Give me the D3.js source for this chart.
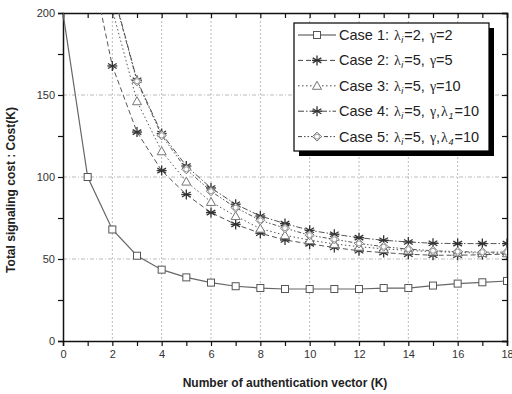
<!DOCTYPE html>
<html>
<head>
<meta charset="utf-8">
<script src="https://cdn.jsdelivr.net/npm/d3@7"></script>
<style>
  body { margin: 0; background: #fff; }
  svg { display: block; font-family: Arial, "Liberation Sans", sans-serif; }
</style>
</head>
<body>
<div id="chart"></div>
<script>
// valores
const kCase1 = d3.range(0, 19);
const case1 = [200, 100, 68, 52, 43.5, 38.8, 35.6, 33.4, 32.3, 31.7, 31.7, 31.7, 31.7, 32.3, 32.3, 33.8, 35, 35.8, 36.6];
const kCase2 = d3.range(1, 19);
const case2 = [240, 167.7, 127.4, 103.9, 89.3, 78.3, 71.1, 65.7, 61.6, 59.2, 57, 55, 53.9, 52.9, 52.3, 52.3, 52.6, 53];
const kRest = d3.range(2, 19);
const case3 = [202, 146.2, 115.7, 97.2, 84.8, 76.2, 68.5, 64.5, 61.5, 59.2, 57.5, 56.2, 55.2, 54.5, 54, 53.6, 53.5];
const case4 = [215, 159, 126.5, 106.7, 93.3, 83.4, 76.2, 71.6, 67.5, 65.1, 63, 61.4, 60.4, 59.6, 59.4, 59.4, 59.4];
const case5 = [214, 158.4, 125.4, 104.7, 91.3, 81.3, 73.6, 68.8, 64.5, 62, 59.5, 57.5, 56, 55, 54.5, 54.2, 54.2];

const xTicks = d3.range(0, 19, 2);
const yTicks = [0, 50, 100, 150, 200];

const series = [
  { k: kCase1, v: case1, marker: 'square', dash: null, label: ['Case 1: ', 'λ', 'i', '=2, ', 'γ', '=2'] },
  { k: kCase2, v: case2, marker: 'star', dash: '5,3', label: ['Case 2: ', 'λ', 'i', '=5, ', 'γ', '=5'] },
  { k: kRest, v: case3, marker: 'triangle', dash: '1.5,2.5', label: ['Case 3: ', 'λ', 'i', '=5, ', 'γ', '=10'] },
  { k: kRest, v: case4, marker: 'star', dash: '6,2,1.5,2', label: ['Case 4: ', 'λ', 'i', '=5, ', 'γ', ',', 'λ', '1', '=10'] },
  { k: kRest, v: case5, marker: 'diamond', dash: '4,2,1.5,2,1.5,2', label: ['Case 5: ', 'λ', 'i', '=5, ', 'γ', ',', 'λ', '4', '=10'] }
];

const width = 512, height = 394;
const margin = { top: 13, right: 5, bottom: 53, left: 63 };
const iw = width - margin.left - margin.right;
const ih = height - margin.top - margin.bottom;

const svg = d3.select('#chart').append('svg')
  .attr('width', width)
  .attr('height', height);

const g = svg.append('g').attr('transform', `translate(${margin.left},${margin.top})`);

const x = d3.scaleLinear().domain([0, 18]).range([0, iw]);
const y = d3.scaleLinear().domain([0, 200]).range([ih, 0]);

svg.append('defs').append('clipPath').attr('id', 'clip')
  .append('rect').attr('width', iw).attr('height', ih);

// rejilla
g.append('g').selectAll('line')
  .data(xTicks.filter(d => d > 0 && d < 18))
  .enter().append('line')
  .attr('x1', d => x(d)).attr('x2', d => x(d))
  .attr('y1', 0).attr('y2', ih)
  .attr('stroke', '#bbb').attr('stroke-width', 1).attr('stroke-dasharray', '2,2');

g.append('g').selectAll('line')
  .data(yTicks.filter(d => d > 0 && d < 200))
  .enter().append('line')
  .attr('x1', 0).attr('x2', iw)
  .attr('y1', d => y(d)).attr('y2', d => y(d))
  .attr('stroke', '#bbb').attr('stroke-width', 1).attr('stroke-dasharray', '4,2,1,2');

// ejes
const minorX = d3.range(0, 19);
const minorY = d3.range(0, 201, 25);

const xAxis = g.append('g').attr('transform', `translate(0,${ih})`)
  .call(d3.axisBottom(x).tickValues(minorX).tickSize(5).tickPadding(4)
    .tickFormat(d => d % 2 === 0 ? d : ''));
const yAxis = g.append('g')
  .call(d3.axisLeft(y).tickValues(minorY).tickSize(5).tickPadding(3)
    .tickFormat(d => d % 50 === 0 ? d : ''));
const xTop = g.append('g')
  .call(d3.axisBottom(x).tickValues(minorX).tickSize(5).tickFormat(''));
const yRight = g.append('g').attr('transform', `translate(${iw},0)`)
  .call(d3.axisLeft(y).tickValues(minorY).tickSize(5).tickFormat(''));

[xAxis, yAxis, xTop, yRight].forEach(a => {
  a.select('.domain').attr('stroke', '#111').attr('stroke-width', 1.5);
  a.selectAll('.tick line').attr('stroke', '#111').attr('stroke-width', 1.2);
  a.selectAll('text').attr('font-size', 11).attr('fill', '#333')
    .attr('font-family', 'Arial, "Liberation Sans", sans-serif');
});

// etiquetas de ejes
svg.append('text')
  .attr('x', 285).attr('y', 387)
  .attr('text-anchor', 'middle')
  .attr('font-size', 12).attr('font-weight', 'bold').attr('fill', '#222')
  .text('Number of authentication vector (K)');

svg.append('text')
  .attr('transform', 'translate(15,190) rotate(-90)')
  .attr('text-anchor', 'middle')
  .attr('font-size', 12).attr('font-weight', 'bold').attr('fill', '#222')
  .text('Total signaling cost : Cost(K)');

// marcadores
function drawMarker(sel, type) {
  if (type === 'square') {
    sel.append('rect').attr('x', -3.5).attr('y', -3.5).attr('width', 7).attr('height', 7)
      .attr('fill', '#fff').attr('stroke', '#555').attr('stroke-width', 1);
  } else if (type === 'triangle') {
    sel.append('path').attr('d', 'M0,-4.5L4.5,3.5L-4.5,3.5Z')
      .attr('fill', '#fff').attr('stroke', '#777').attr('stroke-width', 1);
  } else if (type === 'diamond') {
    sel.append('path').attr('d', 'M0,-4.5L4.5,0L0,4.5L-4.5,0Z')
      .attr('fill', '#fff').attr('stroke', '#777').attr('stroke-width', 1);
    sel.append('circle').attr('r', 2.5).attr('fill', 'none').attr('stroke', '#888').attr('stroke-width', 0.8);
  } else {
    const s = sel.append('g').attr('stroke', '#333').attr('stroke-width', 1.3);
    [0, 60, 120].forEach(a => {
      s.append('line').attr('x1', 0).attr('y1', -5).attr('x2', 0).attr('y2', 5)
        .attr('transform', `rotate(${a})`);
    });
    s.append('line').attr('x1', -5).attr('x2', 5).attr('y1', 0).attr('y2', 0);
  }
}

const line = d3.line().x(d => x(d[0])).y(d => y(d[1]));
const plot = g.append('g').attr('clip-path', 'url(#clip)');

series.forEach((s, si) => {
  const pts = s.k.map((k, i) => [k, s.v[i]]);
  plot.append('path')
    .datum(pts)
    .attr('d', line)
    .attr('fill', 'none')
    .attr('stroke', si === 0 ? '#666' : '#555')
    .attr('stroke-width', si === 0 ? 1.2 : 1)
    .attr('stroke-dasharray', s.dash);
  pts.filter(p => p[1] < 200 && p[0] > 0 && p[0] <= 18).forEach(p => {
    const m = plot.append('g').attr('transform', `translate(${x(p[0])},${y(p[1])})`);
    drawMarker(m, s.marker);
  });
});

// leyenda
const lx = 294, ly = 23, lw = 195, lh = 128;
svg.append('rect').attr('x', lx + 5).attr('y', ly + 5).attr('width', lw).attr('height', lh).attr('fill', '#000');
svg.append('rect').attr('x', lx).attr('y', ly).attr('width', lw).attr('height', lh)
  .attr('fill', '#fff').attr('stroke', '#000').attr('stroke-width', 1.2);

series.forEach((s, i) => {
  const yy = ly + 12 + i * 25.4;
  svg.append('line').attr('x1', lx + 4).attr('x2', lx + 42).attr('y1', yy).attr('y2', yy)
    .attr('stroke', '#444').attr('stroke-width', 1).attr('stroke-dasharray', s.dash);
  drawMarker(svg.append('g').attr('transform', `translate(${lx + 23},${yy})`), s.marker);
  const t = svg.append('text').attr('x', lx + 45).attr('y', yy + 5)
    .attr('font-size', 14.5).attr('fill', '#222');
  s.label.forEach((part, j) => {
    const greek = part === 'λ' || part === 'γ';
    const sub = j > 0 && (s.label[j - 1] === 'λ') && part !== 'λ';
    const ts = t.append('tspan').text(part);
    if (greek) ts.attr('font-family', '"Liberation Serif", "DejaVu Serif", serif').attr('font-size', 14)
      .attr('dx', 1);
    if (sub) {
      ts.attr('font-size', 9).attr('dy', 3).attr('dx', 0.5).attr('font-style', 'italic');
    } else if (j > 0 && s.label[j - 2] === 'λ') {
      ts.attr('dy', -3).attr('dx', 1);
    }
  });
});
</script>
</body>
</html>
